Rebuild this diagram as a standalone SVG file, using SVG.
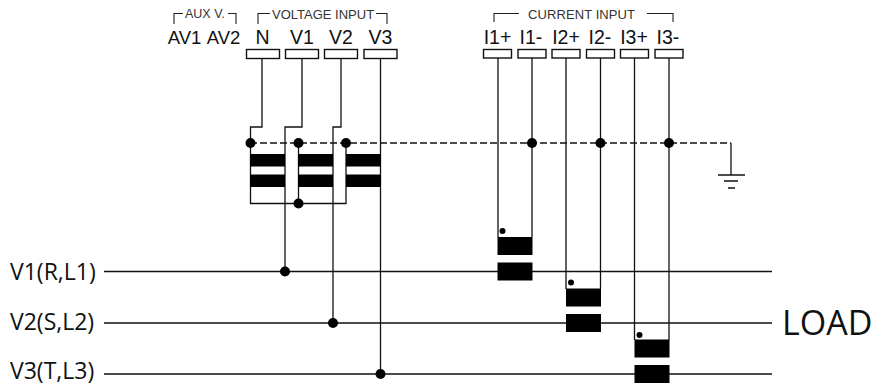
<svg xmlns="http://www.w3.org/2000/svg" width="873" height="385" viewBox="0 0 873 385">
<style>
text{fill:#111;font-family:"Liberation Sans",Arial,sans-serif}
.o{font-family:"Open Sans","Noto Sans",sans-serif}
.h{font-size:13px;fill:#333}
.t{font-size:19.500px;text-anchor:middle}
.w,.b{fill:none;stroke:#111;stroke-width:1.300}
.d{fill:none;stroke:#111;stroke-width:1.300;stroke-dasharray:7 3}
.g{fill:none;stroke:#222;stroke-width:1.100}
.bx{fill:#fff;stroke:#111;stroke-width:1.400}
.bar{fill:#000}
</style>
<g id="connectors">
<path class="b" d="M104 271.500H772M104 323H772M104 374H772"/>
<path class="d" d="M250 143H731"/>
<path class="w" d="M731 143V175M718 175H745M724 181H738M728 188H735"/>
<path class="w" d="M262 58V127H250.500V203.500H346V143M298.500 143V203.500"/>
<path class="w" d="M302 58V127H285V271.500M341 58V127H333V323M380.500 58V374"/>
<path class="w" d="M498 58V237M532 58V237M566 58V289M600.500 58V289M634.500 58V340M669 58V340"/>
</g>
<g id="headers">
<path class="g" d="M174 24V13.500H183M236 24V13.500H228M258 24V13.500H270M387 24V13.500H376M494 22V13.500H519M673 22V13.500H647"/>
<text class="h" x="185" y="18" style="font-size:12.500px">AUX V.</text>
<text class="h" x="272" y="19">VOLTAGE INPUT</text>
<text class="h" x="528" y="19" textLength="107">CURRENT INPUT</text>
</g>
<g id="term-AV1"><text class="t" x="184.500" y="44" style="font-size:18.500px">AV1</text></g>
<g id="term-AV2"><text class="t" x="223.500" y="44" style="font-size:18.500px">AV2</text></g>
<g id="term-N"><rect class="bx" x="246.500" y="49.500" width="33" height="9"/><text class="t" x="262.500" y="44">N</text></g>
<g id="term-V1"><rect class="bx" x="285.500" y="49.500" width="33" height="9"/><text class="t" x="302" y="44">V1</text></g>
<g id="term-V2"><rect class="bx" x="324.500" y="49.500" width="33" height="9"/><text class="t" x="341" y="44">V2</text></g>
<g id="term-V3"><rect class="bx" x="364" y="49.500" width="33" height="9"/><text class="t" x="380.500" y="44">V3</text></g>
<g id="term-I1p"><rect class="bx" x="483.500" y="49.500" width="28" height="8.500"/><text class="t" x="497.500" y="44">I1+</text></g>
<g id="term-I1m"><rect class="bx" x="518" y="49.500" width="28" height="8.500"/><text class="t" x="531" y="44">I1-</text></g>
<g id="term-I2p"><rect class="bx" x="552" y="49.500" width="28" height="8.500"/><text class="t" x="566" y="44">I2+</text></g>
<g id="term-I2m"><rect class="bx" x="586.500" y="49.500" width="28" height="8.500"/><text class="t" x="600" y="44">I2-</text></g>
<g id="term-I3p"><rect class="bx" x="620.500" y="49.500" width="28" height="8.500"/><text class="t" x="634" y="44">I3+</text></g>
<g id="term-I3m"><rect class="bx" x="655" y="49.500" width="28" height="8.500"/><text class="t" x="668" y="44">I3-</text></g>
<g id="voltage-transformers">
<path class="bar" d="M250 154h35v12.500h-35zM298 154h35v12.500h-35zM346 154h35v12.500h-35zM250 174.500h35v12.500h-35zM298 174.500h35v12.500h-35zM346 174.500h35v12.500h-35z"/>
</g>
<g id="current-transformers">
<path class="bar" d="M497.500 237h35v18h-35zM497.500 262.500h35v18h-35zM566 288.500h35v18h-35zM566 314h35v18h-35zM634.500 339.500h35v18h-35zM634.500 365h35v18h-35z"/>
</g>
<g id="junctions">
<circle cx="250.500" cy="143" r="5"/><circle cx="298.500" cy="143" r="5"/><circle cx="346" cy="143" r="5"/><circle cx="298.500" cy="203.500" r="5"/>
<circle cx="532" cy="143" r="5"/><circle cx="600.500" cy="143" r="5"/><circle cx="669" cy="143" r="5"/>
<circle cx="285" cy="271.500" r="5"/><circle cx="333" cy="323" r="5"/><circle cx="380.500" cy="374" r="5"/>
<circle cx="502.500" cy="231" r="3"/><circle cx="571" cy="282.500" r="3"/><circle cx="639.500" cy="335" r="3"/>
</g>
<g id="line-labels">
<text class="o" x="10" y="280" font-size="23">V1(R,L1)</text>
<text class="o" x="10" y="330" font-size="23">V2(S,L2)</text>
<text class="o" x="10" y="379" font-size="23">V3(T,L3)</text>
<text class="o" x="782" y="335" font-size="34">LOAD</text>
</g>
</svg>
